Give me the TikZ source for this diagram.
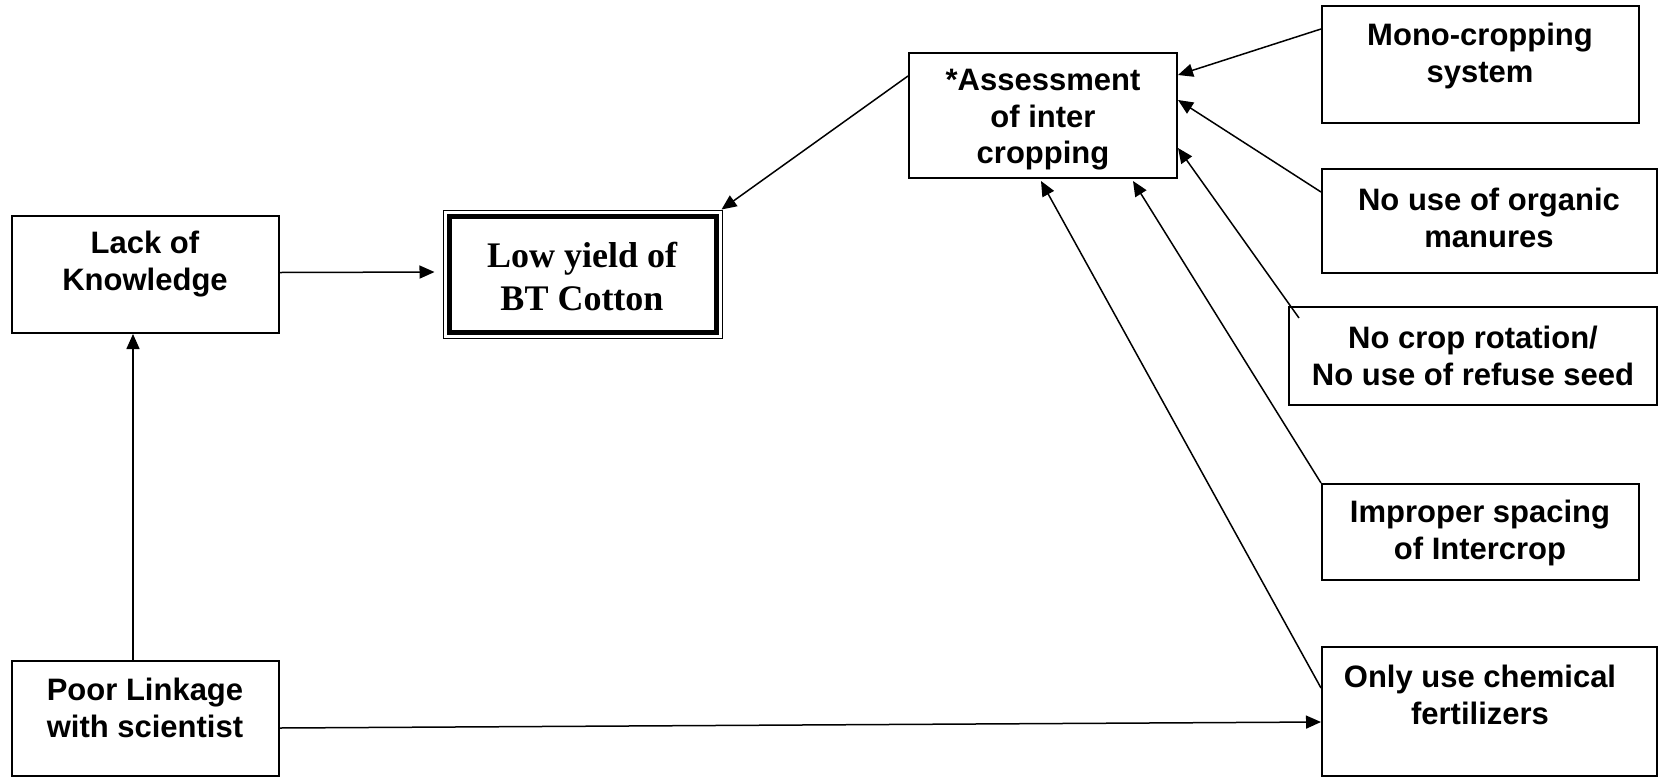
\documentclass[tikz,border=0pt]{standalone}
\usepackage{fontspec}
\setmainfont{Liberation Sans}
\newfontfamily\tnr{Liberation Serif}
\usetikzlibrary{arrows.meta}
\begin{document}
\begin{tikzpicture}[x=0.5pt,y=-0.5pt,
  box/.style={draw, line width=1pt, inner sep=0pt},
  txt/.style={align=center, inner sep=0pt, font=\fontsize{15.5}{18.2}\selectfont\bfseries},
  arr/.style={line width=0.75pt, -{Triangle[length=7.5pt,width=6.5pt]}}]
\useasboundingbox (0,0) rectangle (1665,777);
% boxes
\node[box, minimum width=133.5pt, minimum height=58.5pt] (lack) at (145.5,274.5) {};
\node[box, minimum width=133.5pt, minimum height=57.5pt] (poor) at (145.5,718.5) {};
\node[draw, line width=0.5pt, inner sep=0pt, minimum width=139.5pt, minimum height=64pt] (low) at (582.5,274) {};
\draw[line width=2.5pt] ([xshift=3.25pt,yshift=-3.25pt]low.north west) rectangle ([xshift=-3.25pt,yshift=3.25pt]low.south east);
\node[box, minimum width=134pt, minimum height=62.5pt] (assess) at (1043,115.5) {};
\node[box, minimum width=158.5pt, minimum height=58.5pt] (mono) at (1480.5,64.5) {};
\node[box, minimum width=167.5pt, minimum height=52pt] (org) at (1489.5,221) {};
\node[box, minimum width=184pt, minimum height=49pt] (rot) at (1473,356) {};
\node[box, minimum width=158.5pt, minimum height=48pt] (imp) at (1480.5,532) {};
\node[box, minimum width=167.5pt, minimum height=64.5pt] (chem) at (1489.5,711.5) {};
% texts
\node[txt] (lackT) at (145,264) {Lack of\\Knowledge};
\node[txt] (poorT) at (145,708) {Poor Linkage\\with scientist};
\node[align=center, inner sep=0pt, font=\tnr\fontsize{18}{21.5}\selectfont\bfseries] (lowT) at (582,276) {Low yield of\\BT Cotton};
\node[txt] (assessT) at (1043,120) {*Assessment\\of inter\\cropping};
\node[txt] (monoT) at (1480,56) {Mono-cropping\\system};
\node[txt] (orgT) at (1489,218) {No use of organic\\manures};
\node[txt] (rotT) at (1473,356) {No crop rotation/\\No use of refuse seed};
\node[txt] (impT) at (1480,533) {Improper spacing\\of Intercrop};
\node[txt] (chemT) at (1480,695) {Only use chemical\\fertilizers};
% connectors
\draw[arr, shorten >=4pt] ([yshift=1pt]lack.east) -- ([yshift=1pt]low.west);
\draw[arr] ([xshift=-6.25pt]poor.north) -- ([xshift=-6.25pt]lack.south);
\draw[arr] ([yshift=-4.75pt]poor.east) -- ([yshift=-5.25pt]chem.west);
\draw[arr] ([yshift=19.75pt]assess.west) -- ([xshift=-0.5pt]low.north east);
\draw[arr] ([yshift=17.75pt]mono.west) -- ([yshift=20.25pt]assess.east);
\draw[arr] ([yshift=14.5pt]org.west) -- ([yshift=7.75pt]assess.east);
\draw[arr] ([xshift=5.5pt,yshift=-6pt]rot.north west) -- ([yshift=-16.25pt]assess.east);
\draw[arr] (imp.north west) -- ([xshift=45pt,yshift=-1pt]assess.south);
\draw[arr] ([yshift=11.75pt]chem.west) -- ([xshift=-1pt,yshift=-1pt]assess.south);
\end{tikzpicture}
\end{document}
